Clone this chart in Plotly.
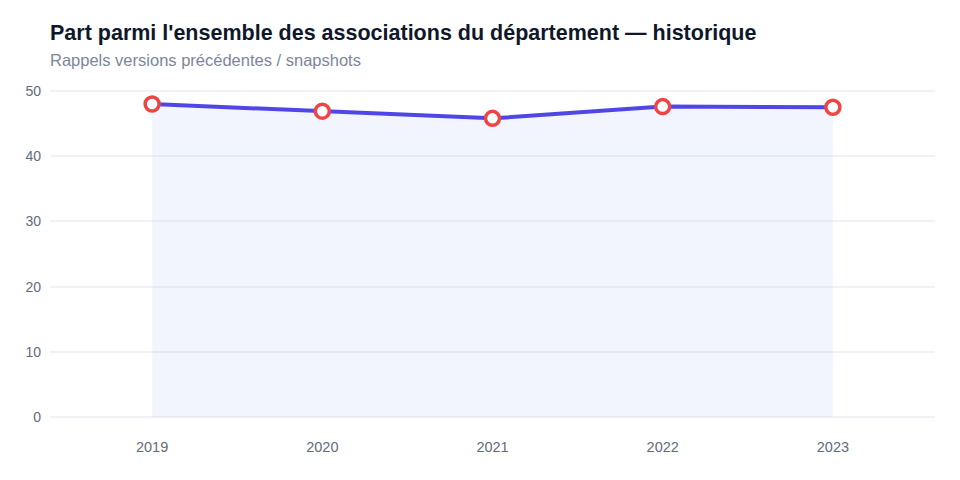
import plotly.graph_objects as go

years = ["2019", "2020", "2021", "2022", "2023"]
values = [48.0, 46.9, 45.8, 47.6, 47.5]

title = "Part parmi l'ensemble des associations du département — historique"
subtitle = "Rappels versions précédentes / snapshots"

fig = go.Figure()
fig.add_trace(go.Scatter(
    x=years, y=values, mode="lines+markers",
    line=dict(color="#4f46e5", width=4),
    fill="tozeroy", fillcolor="rgba(79,110,246,0.07)",
    marker=dict(size=14, color="white", line=dict(color="#ef4444", width=3.5)),
    hoverinfo="x+y", showlegend=False,
))

fig.update_layout(
    width=960, height=480,
    margin=dict(l=50, r=25, t=89, b=61),
    paper_bgcolor="white", plot_bgcolor="white",
    font=dict(family="Liberation Sans, Arial, sans-serif", color="#64748b", size=14),
    xaxis=dict(type="category", range=[-0.6, 4.6], showgrid=False, zeroline=False,
               showline=False, ticks="", ticklabelstandoff=17,
               tickfont=dict(size=14.5, color="#5f6b7e")),
    yaxis=dict(range=[-0.3, 50.3], tickvals=[0, 10, 20, 30, 40, 50],
               showgrid=True, gridcolor="#f0f2f8", gridwidth=1.6,
               zeroline=False, showline=False, ticks="", ticklabelstandoff=8,
               tickfont=dict(size=14, color="#5f6b7e")),
)
fig.add_annotation(text="<b>" + title + "</b>",
                   xref="paper", yref="paper", x=0, y=1, xanchor="left", yanchor="bottom",
                   xshift=-2, yshift=42, showarrow=False, font=dict(size=21.5, color="#0f172a"))
fig.add_annotation(text=subtitle,
                   xref="paper", yref="paper", x=0, y=1, xanchor="left", yanchor="bottom",
                   xshift=-2, yshift=18, showarrow=False, font=dict(size=16.5, color="#7c869a"))

fig.write_html("out.html")
